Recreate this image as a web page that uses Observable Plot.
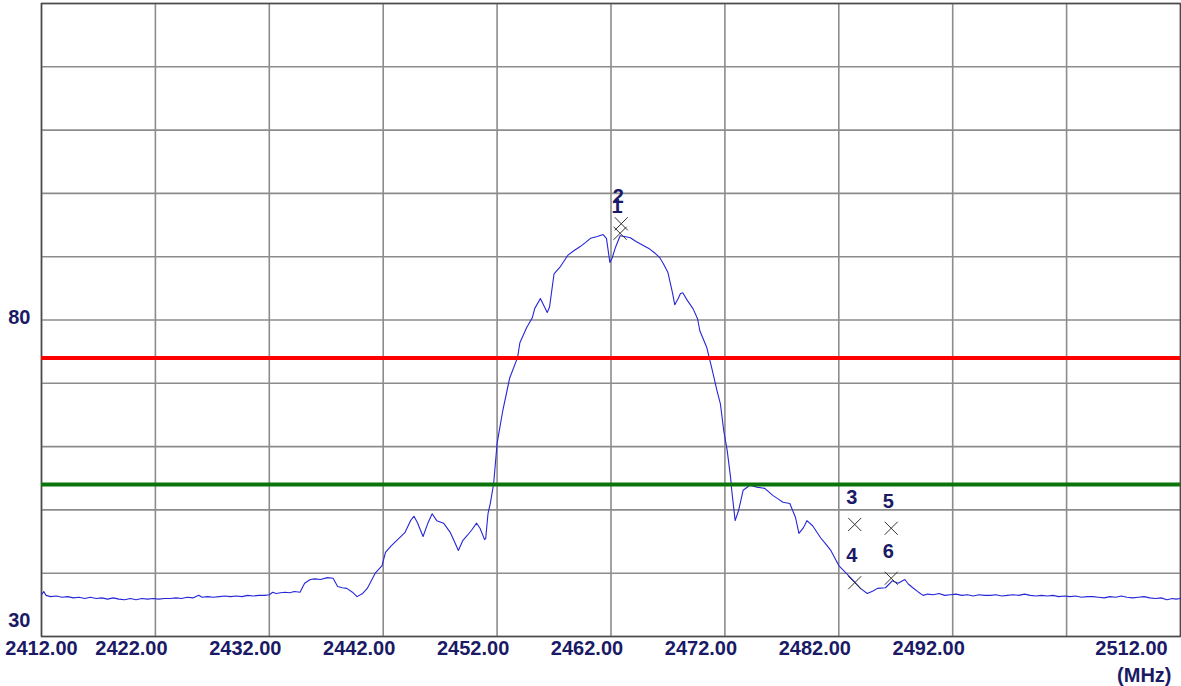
<!DOCTYPE html>
<html>
<head>
<meta charset="utf-8">
<script src="https://cdn.jsdelivr.net/npm/d3@7"></script>
<script src="https://cdn.jsdelivr.net/npm/@observablehq/plot@0.6"></script>
<style>
  html, body { margin: 0; padding: 0; background: #ffffff; }
  #chart svg { display: block; }
</style>
</head>
<body>
<div id="chart"></div>
<script>
// ---- data ----
const traceFreq = [
  2412.0,2412.2,2412.4,2412.8,2413.3,2413.8,2414.3,2414.8,2415.3,2415.8,2416.3,2416.8,2417.3,2417.8,2418.3,2418.8,2419.3,2419.8,2420.3,2420.8,
  2421.3,2421.8,2422.3,2422.8,2423.3,2423.8,2424.3,2424.8,2425.3,2425.8,2426.1,2426.6,2427.1,2427.6,2428.1,2428.6,2429.1,2429.6,2430.1,2430.6,
  2431.1,2431.6,2432.0,2432.3,2432.6,2433.0,2433.4,2433.8,2434.2,2434.7,2435.1,2435.6,2436.0,2436.5,2437.1,2437.6,2438.0,2438.4,2438.8,2439.3,
  2439.7,2440.2,2440.6,2441.3,2441.9,2442.2,2442.7,2443.2,2443.9,2444.4,2444.7,2445.0,2445.5,2445.9,2446.3,2446.7,2447.3,2447.9,2448.3,2448.6,
  2449.0,2449.4,2449.8,2450.2,2450.5,2450.9,2451.0,2451.2,2451.4,2451.6,2451.7,2452.0,2452.5,2453.1,2453.8,2454.0,2454.6,2455.1,2455.3,2455.8,
  2456.1,2456.4,2456.6,2457.0,2457.5,2458.2,2458.7,2459.3,2459.8,2460.2,2460.8,2461.3,2461.6,2461.9,2462.1,2462.4,2462.8,2463.2,2463.7,2464.2,
  2464.8,2465.4,2465.9,2466.3,2466.6,2467.0,2467.4,2467.6,2467.9,2468.1,2468.3,2468.7,2469.2,2469.6,2469.8,2470.4,2470.9,2471.3,2471.6,2471.9,
  2472.2,2472.5,2472.6,2472.9,2473.2,2473.6,2474.2,2474.8,2475.5,2476.2,2476.7,2477.1,2477.7,2478.2,2478.5,2478.9,2479.2,2479.7,2480.4,2480.9,
  2481.3,2482.0,2482.6,2483.3,2483.9,2484.5,2485.0,2485.4,2486.1,2486.7,2487.2,2487.8,2488.1,2488.5,2489.0,2489.4,2489.8,2490.3,2490.8,2491.3,
  2491.8,2492.3,2492.8,2493.3,2493.8,2494.3,2494.8,2495.3,2495.8,2496.3,2496.8,2497.3,2497.8,2498.3,2498.8,2499.3,2499.8,2500.3,2500.8,2501.3,
  2501.8,2502.3,2502.8,2503.3,2503.8,2504.3,2504.8,2505.3,2505.8,2506.3,2506.8,2507.3,2507.8,2508.3,2508.8,2509.3,2509.8,2510.3,2510.8,2511.3,
  2511.6,2512.0
];
const traceLevel = [
  36.6,37.1,36.5,36.3,36.4,36.2,36.3,36.1,36.2,36.0,36.2,36.0,36.1,35.9,36.1,35.9,35.8,36.0,35.8,36.0,
  35.9,36.0,35.9,36.0,36.0,36.1,36.0,36.2,36.1,36.5,36.2,36.3,36.2,36.3,36.4,36.3,36.4,36.3,36.5,36.4,
  36.5,36.5,36.6,37.0,36.8,36.9,37.0,36.9,37.1,37.0,38.4,39.0,39.1,39.0,39.3,39.2,37.9,37.7,37.6,37.0,
  36.3,36.8,37.6,40.0,41.2,43.3,44.3,45.2,46.4,48.3,49.0,48.0,45.8,47.8,49.4,48.3,47.9,46.4,44.8,43.6,
  45.2,46.0,46.9,47.9,47.1,45.3,45.5,49.4,51.0,53.1,54.2,60.5,65.7,70.8,74.1,76.4,78.8,80.4,81.8,83.4,
  82.3,81.2,82.0,87.3,88.3,90.2,90.9,91.6,92.3,92.9,93.2,93.5,92.9,89.1,89.8,91.5,93.3,93.2,93.0,92.4,
  91.8,91.2,90.5,89.8,88.9,87.5,84.3,82.4,83.4,84.2,84.3,83.1,81.8,80.2,78.3,75.7,72.0,68.9,66.8,62.5,
  59.4,55.1,53.1,48.3,49.9,53.1,53.9,53.6,53.4,52.3,51.7,51.2,51.0,48.8,46.3,47.2,48.3,47.5,45.6,44.5,
  43.6,41.2,40.1,38.8,37.6,36.8,37.2,37.6,37.7,38.8,38.4,39.0,38.3,37.7,37.0,36.5,36.7,36.6,36.8,36.5,
  36.6,36.7,36.5,36.6,36.4,36.6,36.5,36.5,36.6,36.4,36.5,36.6,36.5,36.7,36.5,36.4,36.5,36.4,36.5,36.3,
  36.4,36.3,36.4,36.2,36.3,36.3,36.2,36.1,36.3,36.2,36.4,36.2,36.1,36.2,36.3,36.1,36.0,36.1,35.8,36.0,
  35.9,36.0
];

const markerFreq  = [2462.8, 2462.9, 2483.4, 2483.4, 2486.6, 2486.6];
const markerLevel = [93.7,   95.2,   47.7,   38.5,   47.1,   39.2];
const markerLabel = ["1",    "2",    "3",    "4",    "5",    "6"];

const redLimit = 74;
const greenLimit = 54;

const xGrid = [2412, 2422, 2432, 2442, 2452, 2462, 2472, 2482, 2492, 2502, 2512];
const yGrid = [30, 40, 50, 60, 70, 80, 90, 100, 110, 120, 130];
const xTickFirst = [2412];
const xTickMid = [2422, 2432, 2442, 2452, 2462, 2472, 2482, 2492];
const xTickLast = [2512];
const yTickUpper = [80];
const yTickLower = [30];
const xUnit = "(MHz)";

// ---- build ----
const trace = traceFreq.map((f, i) => ({f, v: traceLevel[i]}));
const markers = markerFreq.map((f, i) => ({f, v: markerLevel[i], label: markerLabel[i]}));

const navy = "#1a1a66";
const fmt = d => d.toFixed(2);
const axisCommon = {tickSize: 0, tickPadding: 4, tickFormat: fmt, fill: navy, fontWeight: "bold", fontSize: 20};

const chart = Plot.plot({
  width: 1181,
  height: 686,
  marginLeft: 41,
  marginRight: 1,
  marginTop: 3,
  marginBottom: 50,
  style: {fontFamily: "'Liberation Sans', Arial, sans-serif", fontSize: "20px", fontWeight: "bold", color: navy, background: "#fff"},
  x: {domain: [2412, 2512], label: null},
  y: {domain: [30, 130], label: null},
  marks: [
    Plot.ruleX(xGrid, {stroke: "#8c8c8c", strokeWidth: 1.6}),
    Plot.ruleY(yGrid, {stroke: "#8c8c8c", strokeWidth: 1.6}),
    Plot.frame({stroke: "#4a4a4a", strokeWidth: 1.5}),
    Plot.line(trace, {x: "f", y: "v", stroke: "#2626d8", strokeWidth: 1.1}),
    Plot.ruleY([redLimit], {stroke: "#ff0000", strokeWidth: 4}),
    Plot.ruleY([greenLimit], {stroke: "#0b750b", strokeWidth: 4}),
    Plot.dot(markers, {x: "f", y: "v", symbol: "times", r: 6, stroke: "#333", strokeWidth: 1}),
    Plot.text(markers, {x: "f", y: "v", text: "label", dx: -3, dy: -27, fill: navy, fontWeight: "bold", fontSize: 20}),
    Plot.axisX(xTickFirst, {...axisCommon}),
    Plot.axisX(xTickMid, {...axisCommon, dx: -24}),
    Plot.axisX(xTickLast, {...axisCommon, dx: -49}),
    Plot.axisY(yTickUpper, {tickSize: 0, tickPadding: 11, fill: navy, fontWeight: "bold", fontSize: 20, dy: -2}),
    Plot.axisY(yTickLower, {tickSize: 0, tickPadding: 11, fill: navy, fontWeight: "bold", fontSize: 20, dy: -16}),
    Plot.text([xUnit], {frameAnchor: "bottom-right", dx: -9, dy: 39, textAnchor: "end", lineAnchor: "middle", fill: navy, fontWeight: "bold", fontSize: 20})
  ]
});
document.getElementById("chart").appendChild(chart);
</script>
</body>
</html>
